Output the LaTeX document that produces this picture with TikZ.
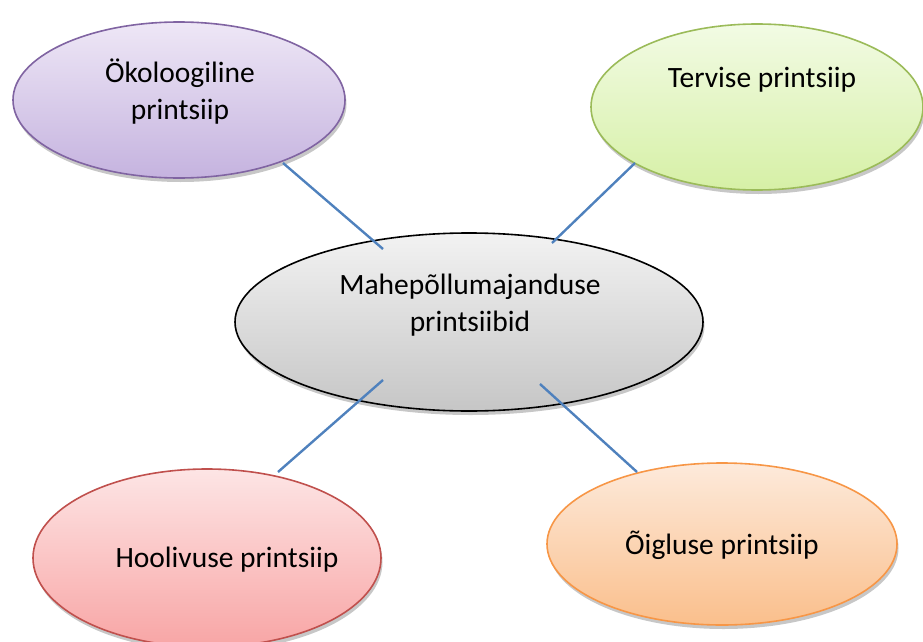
\documentclass[tikz,border=0pt]{standalone}
\usepackage{fontspec}
\setmainfont{Carlito}
\usetikzlibrary{shapes.geometric,shadows}
\definecolor{purpTop}{HTML}{EEE7F6}
\definecolor{purpBot}{HTML}{C5B3DF}
\definecolor{purpLine}{HTML}{8064A2}
\definecolor{grnTop}{HTML}{F2FBE4}
\definecolor{grnBot}{HTML}{D6F0A6}
\definecolor{grnLine}{HTML}{9BBB59}
\definecolor{gryTop}{HTML}{F2F2F2}
\definecolor{gryBot}{HTML}{C6C6C6}
\definecolor{redTop}{HTML}{FDE5E5}
\definecolor{redBot}{HTML}{F8A5A5}
\definecolor{redLine}{HTML}{C0504D}
\definecolor{orTop}{HTML}{FDEADB}
\definecolor{orBot}{HTML}{FABF8C}
\definecolor{orLine}{HTML}{F79646}
\definecolor{conn}{HTML}{4F81BD}
\tikzset{
  bubble/.style={ellipse, inner sep=0pt, line width=1.6pt,
    drop shadow={shadow xshift=1.5pt, shadow yshift=-4pt, opacity=0.22, fill=black}},
  lbl/.style={align=center, inner sep=0pt, font=\fontsize{29.5}{37}\selectfont},
  link/.style={draw=conn, line width=2.4pt}
}
\begin{document}
\begin{tikzpicture}[x=1pt,y=-1pt]
\useasboundingbox (0,0) rectangle (923,642);
% ellipses
\node[bubble, draw=purpLine, top color=purpTop, bottom color=purpBot,
  minimum width=332pt, minimum height=156pt] (eco) at (179,100) {};
\node[bubble, draw=grnLine, top color=grnTop, bottom color=grnBot,
  minimum width=332pt, minimum height=166pt] (ter) at (757,107) {};
\node[bubble, draw=black, top color=gryTop, bottom color=gryBot,
  minimum width=468pt, minimum height=178pt] (mid) at (469,322) {};
\node[bubble, draw=redLine, top color=redTop, bottom color=redBot,
  minimum width=348pt, minimum height=178pt] (hoo) at (207,558) {};
\node[bubble, draw=orLine, top color=orTop, bottom color=orBot,
  minimum width=350pt, minimum height=162pt] (oig) at (722,544) {};
% texts
\node[lbl] (ecoT) at (180,92) {Ökoloogiline\\printsiip};
\node[lbl] (terT) at (762,80) {Tervise printsiip};
\node[lbl] (midT) at (470,305) {Mahepõllumajanduse\\printsiibid};
\node[lbl] (hooT) at (227,560) {Hoolivuse printsiip};
\node[lbl] (oigT) at (722,545) {Õigluse printsiip};
% connector end points
\coordinate (a1) at (283,163);
\coordinate (a2) at (383,249);
\coordinate (b1) at (635,163);
\coordinate (b2) at (552,243);
\coordinate (c1) at (383,380);
\coordinate (c2) at (278,472);
\coordinate (d1) at (540,384);
\coordinate (d2) at (637,472);
\draw[link] (a1) -- (a2);
\draw[link] (b1) -- (b2);
\draw[link] (c1) -- (c2);
\draw[link] (d1) -- (d2);
\end{tikzpicture}
\end{document}
